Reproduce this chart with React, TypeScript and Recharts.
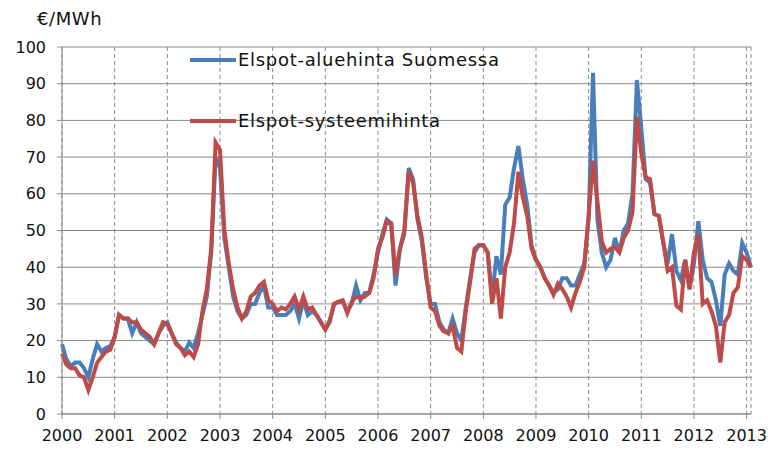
import { LineChart, Line, XAxis, YAxis, CartesianGrid } from "recharts";

// monthly averages, Jan 2000 .. Feb 2013 (€/MWh)
const years = ["2000", "2001", "2002", "2003", "2004", "2005", "2006", "2007", "2008", "2009", "2010", "2011", "2012", "2013"];

const areaPrice = [
  19, 15, 13, 14, 14, 12.5, 10, 15, 19, 17, 18, 18.5,
  21, 27, 26, 26, 22, 25, 22, 21, 20, 19, 22, 24,
  25, 22, 19.5, 18, 17, 19.5, 18, 22, 27, 32, 44, 70,
  67, 48, 40, 32, 28, 26, 27, 30, 30, 33, 35, 29,
  29, 27, 27, 27, 28, 30, 26, 31, 27, 28, 27, 25,
  23, 25, 30, 30.5, 30.5, 28, 30, 35, 31, 33, 33, 38,
  44, 49, 53, 52, 35, 45, 49, 67, 64, 53, 47, 37,
  30, 30, 25, 23, 22, 26, 22, 20, 29, 37, 44, 46,
  46, 44, 32, 43, 38, 57, 59, 67, 73, 64, 57, 46,
  42, 40, 37, 35, 33, 34, 37, 37, 35, 35, 38, 41,
  53, 93, 53, 44, 40, 42, 48, 44, 50, 52, 60, 91,
  78, 64, 63, 54.5, 54, 46.6, 41, 49, 39, 36.5, 42, 34,
  41, 52.5, 42, 37, 36, 31, 24, 38, 41, 39, 38, 46.6,
  44, 40,
];

const systemPrice = [
  16.5, 13.5, 12.5, 12.5, 10.5, 10, 6.5, 10, 14, 15.5, 17, 17.5,
  21, 27, 26, 26, 25, 25, 23, 22, 21, 19, 22, 25,
  24.5, 22, 19, 18, 16, 17, 15.5, 19, 28, 34, 45, 74,
  72, 50, 41, 34, 29, 26, 28, 32, 33, 35, 36, 31,
  30, 28, 29, 28.5, 30, 32, 28.5, 32, 28.5, 29, 27, 25,
  23, 25.5, 30, 30.6, 31, 27.5, 30.5, 32, 31.5, 32, 33, 37,
  45, 48, 52.5, 52, 38, 45, 50, 66, 63, 54, 48, 38,
  29, 28, 24, 22.5, 22, 24, 18, 17, 28, 36, 45, 46,
  46, 44, 30, 37, 26, 40, 44, 52, 66, 59, 54, 45,
  42, 40, 37, 35, 32.5, 35.5, 34, 32, 29, 33, 36, 40,
  54, 69, 58, 47, 44, 45, 45.5, 44, 48, 50, 55, 81,
  71, 64.5, 64, 54.5, 54, 47, 39, 40, 29.5, 28.5, 42, 34,
  44, 49, 30, 31, 28, 24, 14, 25, 27, 33, 34.5, 43,
  42, 40,
];

const yTicks = [0, 10, 20, 30, 40, 50, 60, 70, 80, 90, 100];
const xTicks = years.map((_, i) => i * 12);

const data = areaPrice.map((v, i) => ({ m: i, area: v, system: systemPrice[i] }));

const BLUE = "#4a7ebb";
const RED = "#be4b48";
const GRID = "#8a8a8a";
const FONT = "'DejaVu Sans', sans-serif";

const legendRow = {
  position: "absolute" as const,
  left: 190,
  display: "flex",
  alignItems: "center",
  fontSize: 18,
  letterSpacing: 0.7,
  color: "#111",
};

export default function App() {
  return (
    <div style={{ position: "relative", width: 768, height: 452, background: "#fff", fontFamily: FONT }}>
      <style>{"body{margin:0}"}</style>
      <div style={{ position: "absolute", left: 37, top: 8, fontSize: 18, letterSpacing: 0.6, color: "#111" }}>
        €/MWh
      </div>
      <LineChart width={768} height={452} data={data} margin={{ top: 47, right: 17, bottom: 0, left: 0 }}>
        <CartesianGrid vertical={false} stroke={GRID} />
        <CartesianGrid horizontal={false} stroke={GRID} strokeDasharray="4 3" />
        <XAxis
          dataKey="m"
          type="number"
          domain={[0, 157]}
          ticks={xTicks}
          tickFormatter={(v: number) => years[v / 12]}
          height={38}
          stroke={GRID}
          tickSize={5}
          tickMargin={11}
          tick={{ fill: "#111", fontSize: 16, fontFamily: FONT }}
          interval={0}
        />
        <YAxis
          domain={[0, 100]}
          ticks={yTicks}
          width={62}
          stroke={GRID}
          tickSize={5}
          tickMargin={11}
          tick={{ fill: "#111", fontSize: 16, fontFamily: FONT }}
          interval={0}
        />
        <Line dataKey="area" stroke={BLUE} strokeWidth={4} dot={false} isAnimationActive={false} />
        <Line dataKey="system" stroke={RED} strokeWidth={4} dot={false} isAnimationActive={false} />
      </LineChart>
      <div style={{ ...legendRow, top: 49 }}>
        <div style={{ width: 46, height: 4, background: BLUE, marginRight: 2 }} />
        <span>Elspot-aluehinta Suomessa</span>
      </div>
      <div style={{ ...legendRow, top: 110 }}>
        <div style={{ width: 46, height: 4, background: RED, marginRight: 2 }} />
        <span>Elspot-systeemihinta</span>
      </div>
    </div>
  );
}
